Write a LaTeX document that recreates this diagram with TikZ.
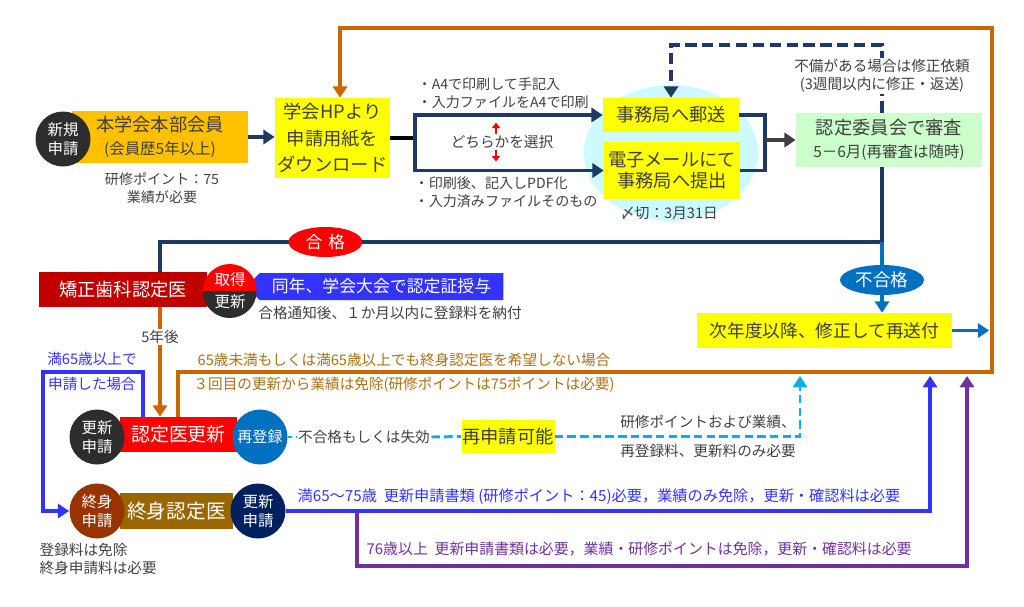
\documentclass[tikz,border=0pt]{standalone}
\usepackage{fontspec}
\setmainfont{Noto Sans CJK JP}
\usetikzlibrary{shapes,arrows.meta,positioning}

\definecolor{navy}{RGB}{31,56,100}
\definecolor{orn}{RGB}{204,102,0}
\definecolor{gold}{RGB}{255,192,0}
\definecolor{yel}{RGB}{255,255,0}
\definecolor{mint}{RGB}{204,255,204}
\definecolor{cyanbg}{RGB}{204,250,255}
\definecolor{dark}{RGB}{45,45,45}
\definecolor{darkred}{RGB}{192,0,0}
\definecolor{bred}{RGB}{255,0,0}
\definecolor{blu}{RGB}{0,112,192}
\definecolor{sbl}{RGB}{51,51,255}
\definecolor{purp}{RGB}{112,48,160}
\definecolor{brownc}{RGB}{153,51,0}
\definecolor{goldbr}{RGB}{153,102,0}
\definecolor{navyc}{RGB}{0,32,96}
\definecolor{cya}{RGB}{0,176,240}
\definecolor{otext}{RGB}{170,112,20}
\definecolor{txt}{RGB}{64,64,64}

\newlength\ux \setlength\ux{0.025cm}
\newcommand\fbig{\fontsize{13}{16}\selectfont}
\newcommand\fmid{\fontsize{11}{14}\selectfont}
\newcommand\fsmall{\fontsize{10.4}{12.8}\selectfont}
\newcommand\fcirc{\fontsize{11}{14}\selectfont}

\begin{document}
\begin{tikzpicture}[x=0.025cm, y=-0.025cm,
	box/.style={inner sep=0pt, align=center, text=txt, font=\fbig},
	disc/.style={circle, inner sep=0pt, minimum size=55\ux, text=white, align=center, font=\fcirc},
	oval/.style={ellipse, inner sep=0pt, text=white},
	note/.style={inner sep=1pt, align=center, text=txt, font=\fsmall},
	arr/.style={-{Triangle[length=8pt,width=10pt]}},
	navy line/.style={draw=navy, line width=2.8pt},
	orn line/.style={draw=orn, line width=2.8pt},
	sbl line/.style={draw=sbl, line width=2.8pt},
	pur line/.style={draw=purp, line width=2.8pt},
	blu line/.style={draw=blu, line width=2.8pt},
	cya line/.style={draw=cya, line width=2.1pt, dash pattern=on 6pt off 3pt},
	]
	\useasboundingbox (0,0) rectangle (1024,606);

	% first row
	\node[box, ellipse, fill=cyanbg, minimum width=174\ux, minimum height=136\ux] (bgell) at (671,153) {};
	\node[box, fill=gold, minimum width=176\ux, minimum height=52\ux] (honbu) at (160,137) {本学会本部会員\\{\fmid (会員歴5年以上)}};
	\node[disc, fill=dark] (shinki) at (63,139) {新規\\申請};
	\node[note, font=\fontsize{10}{12.8}\selectfont] (hkcond) at (162,188) {研修ポイント：75\\業績が必要};
	\node[box, fill=yel, minimum width=115\ux, minimum height=80\ux, font=\fontsize{13}{19}\selectfont] (hp) at (332.5,138) {学会HPより\\申請用紙を\\ダウンロード};
	\node[box, fill=yel, minimum width=136\ux, minimum height=34\ux] (yuso) at (671,115) {事務局へ郵送};
	\node[box, fill=yel, minimum width=136\ux, minimum height=57\ux, font=\fontsize{13}{15}\selectfont] (email) at (672,170.5) {電子メールにて\\事務局へ提出};
	\node[note] (shime) at (669,213) {〆切：3月31日};
	\node[box, fill=mint, minimum width=186\ux, minimum height=54\ux] (shinsa) at (889,140) {認定委員会で審査\\{\fmid 5－6月(再審査は随時)}};
	\node[note, anchor=west, align=left, font=\fontsize{10}{12.8}\selectfont] (opt1) at (416,93) {・A4で印刷して手記入\\・入力ファイルをA4で印刷};
	\node[note, anchor=west, align=left, font=\fontsize{10}{12.8}\selectfont] (opt2) at (413,192) {・印刷後、記入しPDF化\\・入力済みファイルそのもの};
	\node[note] (erabu) at (502,142) {どちらかを選択};

	% second row
	\node[oval, fill=blu, minimum width=84\ux, minimum height=30\ux, font=\fontsize{12.5}{14}\selectfont] (fugokaku) at (882,280) {不合格};
	\node[box, fill=yel, minimum width=255\ux, minimum height=35\ux, font=\fontsize{12.6}{15}\selectfont] (jinendo) at (824.5,330.5) {次年度以降、修正して再送付};
	\node[box, fill=darkred, text=white, minimum width=168\ux, minimum height=35\ux] (kyosei) at (123,289.5) {矯正歯科認定医};
	\node[box, shape=signal, signal to=west, signal from=nowhere, fill=sbl, text=white, minimum width=257\ux, minimum height=27\ux, font=\fontsize{12}{14}\selectfont] (juyo) at (381.5,286.5) {同年、学会大会で認定証授与};
	\node[disc, minimum size=54\ux] (shutoku) at (230,291) {};
	\fill[bred] (shutoku.west) arc[start angle=180, end angle=0, radius=27\ux] -- cycle;
	\fill[dark] (shutoku.west) arc[start angle=180, end angle=360, radius=27\ux] -- cycle;
	\node[text=white, font=\fcirc] at (230,280) {取得};
	\node[text=white, font=\fcirc] at (230,302) {更新};
	\node[note] (nofu) at (390,313) {合格通知後、１か月以内に登録料を納付};

	% renewal rows
	\node[box, fill=bred, text=white, minimum width=117\ux, minimum height=35\ux, font=\fontsize{13.5}{16}\selectfont] (koshinbox) at (178.5,434.5) {認定医更新};
	\node[disc, fill=dark] (koshin) at (97,437) {更新\\申請};
	\node[disc, fill=blu, font=\fontsize{10.7}{13}\selectfont] (saitoroku) at (260,437) {再登録};
	\node[note] (shikko) at (364,437) {不合格もしくは失効};
	\node[box, fill=yel, minimum width=93\ux, minimum height=33\ux] (saishinsei) at (508,436.5) {再申請可能};
	\node[note, font=\fontsize{10.4}{20.6}\selectfont] (req) at (708,436) {研修ポイントおよび業績、\\再登録料、更新料のみ必要};
	\node[note, text=otext] (o1) at (404,360) {65歳未満もしくは満65歳以上でも終身認定医を希望しない場合};
	\node[note, text=otext] (o2) at (404,385) {３回目の更新から業績は免除(研修ポイントは75ポイントは必要)};
	\node[note, text=sbl] (b1) at (92,359) {満65歳以上で};
	\node[note, text=sbl] (b2) at (92,384) {申請した場合};

	\node[box, fill=goldbr, text=white, minimum width=113\ux, minimum height=36\ux, font=\fontsize{14}{16}\selectfont] (shushinbox) at (176.5,511) {終身認定医};
	\node[disc, fill=brownc] (shushin) at (97,511) {終身\\申請};
	\node[disc, fill=navyc] (koshin2) at (258,511) {更新\\申請};
	\node[note, anchor=west, align=left] (fee) at (38,559) {登録料は免除\\終身申請料は必要};
	\node[note, text=sbl, anchor=west, font=\fontsize{10.8}{12.8}\selectfont] (r65) at (296,497) {満65～75歳\ \ 更新申請書類 (研修ポイント：45)必要，業績のみ免除，更新・確認料は必要};
	\node[note, text=purp, anchor=west, font=\fontsize{10.6}{12.8}\selectfont] (r76) at (365,549) {76歳以上\ \ 更新申請書類は必要，業績・研修ポイントは免除，更新・確認料は必要};

	% corners
	\coordinate (brk) at (415,140);
	\coordinate (mrg) at (765,140);
	\coordinate (dtop) at (882,45);
	\coordinate (turn) at (882,242);
	\coordinate (kin) at (160,242);
	\coordinate (ort) at (992,28);
	\coordinate (otl) at (340,28);
	\coordinate (ob) at (178,372);
	\coordinate (bx) at (143,372);
	\coordinate (bl) at (43,372);
	\coordinate (cu) at (800,376);
	\coordinate (bv) at (930,376);
	\coordinate (pv) at (967,376);
	\coordinate (pd) at (357,566);

	% connectors
	\draw[navy line, arr] (honbu.east) -- (honbu.east -| hp.west);
	\draw[line width=2.8pt] (hp.east) -- (hp.east -| brk);
	\draw[navy line, {Triangle[length=8pt,width=10pt]}-{Triangle[length=8pt,width=10pt]}] (yuso.west) -- (yuso.west -| brk) -- (email.west -| brk) -- (email.west);
	\draw[red, line width=2pt, -{Triangle[length=4pt,width=6pt]}] ([xshift=-6\ux]erabu.north) -- ++(0,-11);
	\draw[red, line width=2pt, -{Triangle[length=4pt,width=6pt]}] ([xshift=-6\ux]erabu.south) -- ++(0,11);
	\draw[navy line] (yuso.east) -- (yuso.east -| mrg) -- (email.east -| mrg) -- (email.east);
	\draw[draw=txt, line width=2.8pt, arr] (mrg) -- (shinsa.west);
	\draw[navy line, dash pattern=on 8pt off 4pt, arr] (shinsa.north -| dtop) -- node[note, fill=white, pos=0.54] (fubi) {不備がある場合は修正依頼\\(3週間以内に修正・返送)} (dtop) -- (yuso.north |- dtop) -- (yuso.north);
	\draw[navy line] (shinsa.south -| turn) -- (turn) -- node[oval, fill=bred, minimum width=74\ux, minimum height=30\ux, font=\fontsize{12}{14}\selectfont, pos=0.771] (gokaku) {合\,\,格} (kin) -- (kin |- kyosei.north);
	\draw[blu line] (turn) -- (fugokaku);
	\draw[blu line, arr] (fugokaku) -- (fugokaku |- jinendo.north);
	\draw[blu line, arr] (jinendo.east) -- ([xshift=-2pt]jinendo.east -| ort);
	\draw[orn line, arr] (ob |- koshinbox.north) -- (ob) -- (ob -| ort) -- (ort) -- (otl) -- (otl |- hp.north);
	\draw[orn line, arr] (kin |- kyosei.south) -- node[note, fill=white, pos=0.27] (gonen) {5年後} (kin |- koshinbox.north);
	\draw[sbl line, arr] (bx |- koshinbox.north) -- (bx) -- (bl) -- (bl |- shushin.west) -- (shushin.west);
	\draw[cya line, dash pattern=on 3pt off 2.5pt] (saitoroku.east) -- (shikko.west);
	\draw[cya line] (shikko.east) -- (saishinsei.west);
	\draw[cya line, arr] (saishinsei.east) -- (saishinsei.east -| cu) -- (cu);
	\draw[sbl line, arr] (koshin2.east) -- (koshin2.east -| bv) -- (bv);
	\draw[pur line, arr] (pd |- koshin2.east) -- (pd) -- (pd -| pv) -- (pv);
\end{tikzpicture}
\end{document}
